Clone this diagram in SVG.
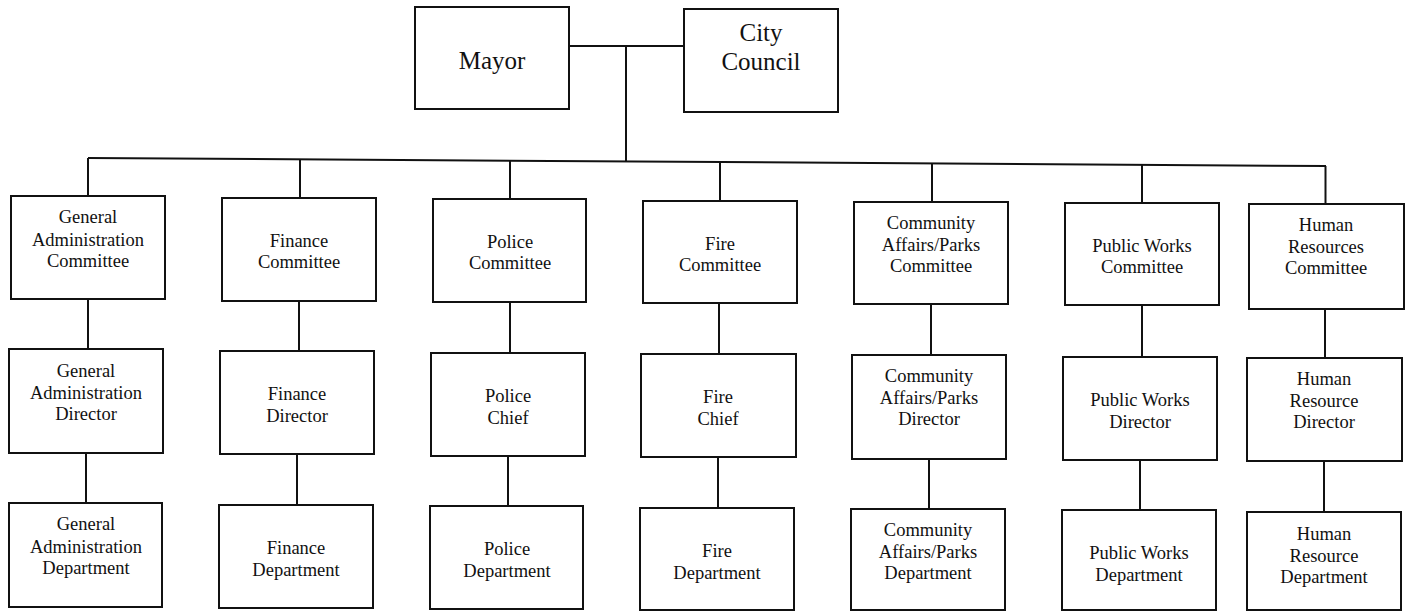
<svg xmlns="http://www.w3.org/2000/svg" width="1414" height="611" viewBox="0 0 1414 611">
<style>
.b{fill:#fff;stroke:#111;stroke-width:2}
.c line{stroke:#111;stroke-width:2}
text{font-family:"Liberation Serif","Times New Roman",serif;fill:#111;text-anchor:middle;font-size:18.5px}
.big{font-size:25px}
</style>
<rect width="1414" height="611" fill="#fff"/>
<g class="c" id="connectors">
<line x1="569" y1="46" x2="684" y2="46"/>
<line x1="626" y1="46" x2="626" y2="161.5"/>
<line x1="88" y1="158" x2="1326" y2="166"/>
<line x1="88" y1="158" x2="88" y2="196"/>
<line x1="300" y1="159.4" x2="300" y2="198"/>
<line x1="510" y1="160.7" x2="510" y2="199"/>
<line x1="720" y1="162" x2="720" y2="201"/>
<line x1="932" y1="163.4" x2="932" y2="202"/>
<line x1="1142" y1="164.8" x2="1142" y2="203"/>
<line x1="1325.5" y1="166" x2="1325.5" y2="204"/>
<line x1="88" y1="299" x2="88" y2="349"/>
<line x1="86" y1="453" x2="86" y2="503"/>
<line x1="299" y1="301" x2="299" y2="351"/>
<line x1="297" y1="454" x2="297" y2="505"/>
<line x1="510" y1="302" x2="510" y2="353"/>
<line x1="508" y1="456" x2="508" y2="506"/>
<line x1="719" y1="303" x2="719" y2="354"/>
<line x1="718" y1="457" x2="718" y2="508"/>
<line x1="931" y1="304" x2="931" y2="355"/>
<line x1="929" y1="459" x2="929" y2="509"/>
<line x1="1142" y1="305" x2="1142" y2="357"/>
<line x1="1140" y1="460" x2="1140" y2="510"/>
<line x1="1325" y1="309" x2="1325" y2="358"/>
<line x1="1324" y1="461" x2="1324" y2="512"/>
</g>
<g id="mayor"><rect class="b" x="415" y="7" width="154" height="102"/><text class="big" x="492" y="69">Mayor</text></g>
<g id="council"><rect class="b" x="684" y="9" width="154" height="103"/><text class="big" x="761" y="41">City</text><text class="big" x="761" y="70">Council</text></g>

<g id="ga-committee"><rect class="b" x="11" y="196" width="154" height="103"/><text x="88" y="223">General</text><text x="88" y="246">Administration</text><text x="88" y="267">Committee</text></g>
<g id="ga-director"><rect class="b" x="9" y="349" width="154" height="104"/><text x="86" y="377">General</text><text x="86" y="399">Administration</text><text x="86" y="420">Director</text></g>
<g id="ga-department"><rect class="b" x="9" y="503" width="153" height="104"/><text x="86" y="530">General</text><text x="86" y="553">Administration</text><text x="86" y="574">Department</text></g>

<g id="fin-committee"><rect class="b" x="222" y="198" width="154" height="103"/><text x="299" y="247">Finance</text><text x="299" y="268">Committee</text></g>
<g id="fin-director"><rect class="b" x="220" y="351" width="154" height="103"/><text x="297" y="400">Finance</text><text x="297" y="422">Director</text></g>
<g id="fin-department"><rect class="b" x="219" y="505" width="154" height="103"/><text x="296" y="554">Finance</text><text x="296" y="576">Department</text></g>

<g id="police-committee"><rect class="b" x="433" y="199" width="153" height="103"/><text x="510" y="248">Police</text><text x="510" y="269">Committee</text></g>
<g id="police-chief"><rect class="b" x="431" y="353" width="154" height="103"/><text x="508" y="402">Police</text><text x="508" y="424">Chief</text></g>
<g id="police-department"><rect class="b" x="430" y="506" width="153" height="103"/><text x="507" y="555">Police</text><text x="507" y="577">Department</text></g>

<g id="fire-committee"><rect class="b" x="643" y="201" width="154" height="102"/><text x="720" y="250">Fire</text><text x="720" y="271">Committee</text></g>
<g id="fire-chief"><rect class="b" x="641" y="354" width="155" height="103"/><text x="718" y="403">Fire</text><text x="718" y="425">Chief</text></g>
<g id="fire-department"><rect class="b" x="640" y="508" width="154" height="102"/><text x="717" y="557">Fire</text><text x="717" y="579">Department</text></g>

<g id="community-committee"><rect class="b" x="854" y="202" width="154" height="102"/><text x="931" y="229">Community</text><text x="931" y="251">Affairs/Parks</text><text x="931" y="272">Committee</text></g>
<g id="community-director"><rect class="b" x="852" y="355" width="154" height="104"/><text x="929" y="382">Community</text><text x="929" y="404">Affairs/Parks</text><text x="929" y="425">Director</text></g>
<g id="community-department"><rect class="b" x="851" y="509" width="154" height="101"/><text x="928" y="536">Community</text><text x="928" y="558">Affairs/Parks</text><text x="928" y="579">Department</text></g>

<g id="pw-committee"><rect class="b" x="1065" y="203" width="154" height="102"/><text x="1142" y="252">Public Works</text><text x="1142" y="273">Committee</text></g>
<g id="pw-director"><rect class="b" x="1063" y="357" width="154" height="103"/><text x="1140" y="406">Public Works</text><text x="1140" y="428">Director</text></g>
<g id="pw-department"><rect class="b" x="1062" y="510" width="154" height="100"/><text x="1139" y="559">Public Works</text><text x="1139" y="581">Department</text></g>

<g id="hr-committee"><rect class="b" x="1249" y="204" width="155" height="105"/><text x="1326" y="231">Human</text><text x="1326" y="253">Resources</text><text x="1326" y="274">Committee</text></g>
<g id="hr-director"><rect class="b" x="1247" y="358" width="155" height="103"/><text x="1324" y="385">Human</text><text x="1324" y="407">Resource</text><text x="1324" y="428">Director</text></g>
<g id="hr-department"><rect class="b" x="1247" y="512" width="154" height="98"/><text x="1324" y="540">Human</text><text x="1324" y="562">Resource</text><text x="1324" y="583">Department</text></g>
</svg>
